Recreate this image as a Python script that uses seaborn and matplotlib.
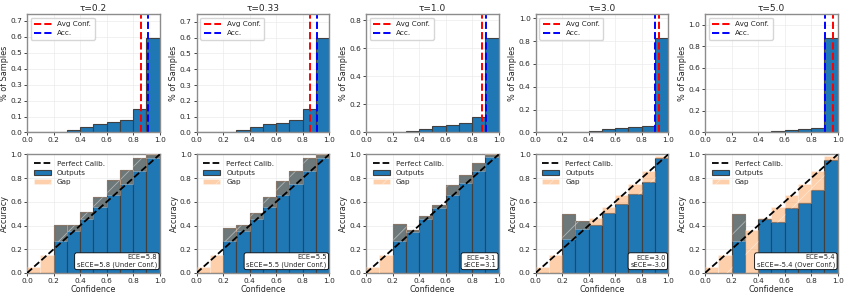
import numpy as np
import pandas as pd
import seaborn as sns
import matplotlib.pyplot as plt

taus = ["0.2", "0.33", "1.0", "3.0", "5.0"]
n_bins = 10
bin_centers = (np.arange(n_bins) + 0.5) / n_bins

# fraction of samples in each confidence bin (top row)
frac_02 = [0, 0, 0.003, 0.017, 0.036, 0.056, 0.063, 0.079, 0.150, 0.595]
frac_033 = [0, 0, 0.003, 0.016, 0.035, 0.054, 0.063, 0.078, 0.146, 0.600]
frac_10 = [0, 0, 0.002, 0.014, 0.026, 0.047, 0.055, 0.069, 0.114, 0.677]
frac_30 = [0, 0, 0.001, 0.003, 0.012, 0.029, 0.035, 0.044, 0.058, 0.830]
frac_50 = [0, 0, 0.001, 0, 0.003, 0.015, 0.022, 0.031, 0.043, 0.880]

avg_conf = [0.857, 0.855, 0.875, 0.930, 0.962]
avg_acc = [0.915, 0.910, 0.902, 0.897, 0.908]

# per-bin accuracy and mean confidence (bottom row)
acc_02 = [0, 0, 0.405, 0.405, 0.513, 0.637, 0.788, 0.870, 0.966, 1.0]
conf_02 = [0.05, 0.15, 0.27, 0.354, 0.456, 0.558, 0.66, 0.75, 0.864, 0.97]
acc_033 = [0, 0, 0.38, 0.405, 0.504, 0.637, 0.779, 0.864, 0.966, 1.0]
conf_033 = [0.05, 0.15, 0.27, 0.354, 0.456, 0.558, 0.654, 0.75, 0.864, 0.97]
acc_10 = [0, 0, 0.41, 0.36, 0.484, 0.57, 0.745, 0.83, 0.926, 1.0]
conf_10 = [0.05, 0.15, 0.27, 0.343, 0.456, 0.552, 0.654, 0.756, 0.864, 0.977]
acc_30 = [0, 0, 0.50, 0.44, 0.405, 0.507, 0.584, 0.666, 0.765, 0.972]
conf_30 = [0.05, 0.15, 0.286, 0.368, 0.462, 0.558, 0.654, 0.75, 0.864, 0.99]
acc_50 = [0, 0, 0.50, 0, 0.456, 0.433, 0.552, 0.586, 0.70, 0.957]
conf_50 = [0.05, 0.15, 0.27, 0.36, 0.467, 0.558, 0.654, 0.75, 0.864, 0.99]

ece = [5.8, 5.5, 3.1, 3.0, 5.4]
sece = [5.8, 5.5, 3.1, -3.0, -5.4]
sece_note = [" (Under Conf.)", " (Under Conf.)", "", "", " (Over Conf.)"]

fracs = [frac_02, frac_033, frac_10, frac_30, frac_50]
accs = [acc_02, acc_033, acc_10, acc_30, acc_50]
confs = [conf_02, conf_033, conf_10, conf_30, conf_50]

sns.set_style("whitegrid", {"axes.edgecolor": "0.55", "grid.color": "0.92",
                            "xtick.bottom": True, "ytick.left": True})
plt.rcParams['font.family'] = ['DejaVu Sans']
plt.rcParams.update({"xtick.labelsize": 5.3, "ytick.labelsize": 5.3,
                     "xtick.major.size": 2, "ytick.major.size": 2,
                     "xtick.major.width": 0.6, "ytick.major.width": 0.6,
                     "xtick.major.pad": 1.5, "ytick.major.pad": 1.5,
                     "axes.linewidth": 1.0, "grid.linewidth": 0.5,
                     "hatch.linewidth": 0.6})

fig, axes = plt.subplots(2, 5, figsize=(8.47, 2.97), dpi=100)
plt.subplots_adjust(left=0.032, right=0.989, top=0.953, bottom=0.081,
                    wspace=0.278, hspace=0.185)

edge = "#404040"
gap_face = (0.98, 0.48, 0.08, 0.36)

for i, tau in enumerate(taus):
    # confidence histogram
    ax = axes[0, i]
    df = pd.DataFrame({"conf": bin_centers, "frac": fracs[i]})
    sns.histplot(data=df, x="conf", weights="frac", bins=n_bins,
                 binrange=(0, 1), ax=ax, color="tab:blue", alpha=1,
                 edgecolor=edge, linewidth=0.8)
    ax.axvline(avg_conf[i], color="red", ls="--", lw=1.4, label="Avg Conf.")
    ax.axvline(avg_acc[i], color="blue", ls="--", lw=1.4, label="Acc.")
    ax.set_xlim(0, 1)
    ax.set_ylim(0, max(fracs[i]) * 1.25)
    ax.set_xticks(np.arange(0, 1.01, 0.2))
    ax.set_title(f"\u03c4={tau}", fontsize=6.5, pad=2)
    ax.set_ylabel("% of Samples", fontsize=5.8, labelpad=1)
    ax.set_xlabel("")
    ax.legend(loc="upper left", fontsize=5.2, handlelength=2.4, frameon=True,
              edgecolor="0.8", borderpad=0.5, labelspacing=0.4,
              handletextpad=0.8)
    ax.set_axisbelow(True)

    # reliability diagram
    ax = axes[1, i]
    acc = np.array(accs[i])
    conf = np.array(confs[i])
    df = pd.DataFrame({"conf": bin_centers, "acc": acc})
    sns.histplot(data=df, x="conf", weights="acc", bins=n_bins,
                 binrange=(0, 1), ax=ax, color="tab:blue", alpha=1,
                 edgecolor=edge, linewidth=0.8, label="Outputs")
    ax.bar(bin_centers, np.abs(acc - conf), bottom=np.minimum(acc, conf),
           width=1 / n_bins, facecolor=gap_face, edgecolor=(1, 1, 1, 0.45),
           hatch="/", linewidth=0.4, label="Gap", zorder=3)
    ax.plot([0, 1], [0, 1], ls="--", color="black", lw=1.3,
            label="Perfect Calib.", zorder=4)
    ax.set_xlim(0, 1)
    ax.set_ylim(0, 1)
    ax.set_xticks(np.arange(0, 1.01, 0.2))
    ax.set_yticks(np.arange(0, 1.01, 0.2))
    ax.set_xlabel("Confidence", fontsize=5.8, labelpad=1)
    ax.set_ylabel("Accuracy", fontsize=5.8, labelpad=1)
    h, l = ax.get_legend_handles_labels()
    order = [l.index("Perfect Calib."), l.index("Outputs"), l.index("Gap")]
    ax.legend([h[k] for k in order], [l[k] for k in order], loc="upper left",
              fontsize=5.2, handlelength=2.4, frameon=False, labelspacing=0.4,
              handletextpad=0.8)
    ax.text(0.98, 0.045, f"ECE={ece[i]:.1f}\nsECE={sece[i]:.1f}{sece_note[i]}",
            transform=ax.transAxes, ha="right", va="bottom", fontsize=4.9,
            multialignment="right", zorder=6, linespacing=1.15,
            bbox=dict(boxstyle="round,pad=0.3", facecolor="white",
                      edgecolor="black", linewidth=0.6))
    ax.set_axisbelow(True)

plt.savefig("out.png", dpi=100)
